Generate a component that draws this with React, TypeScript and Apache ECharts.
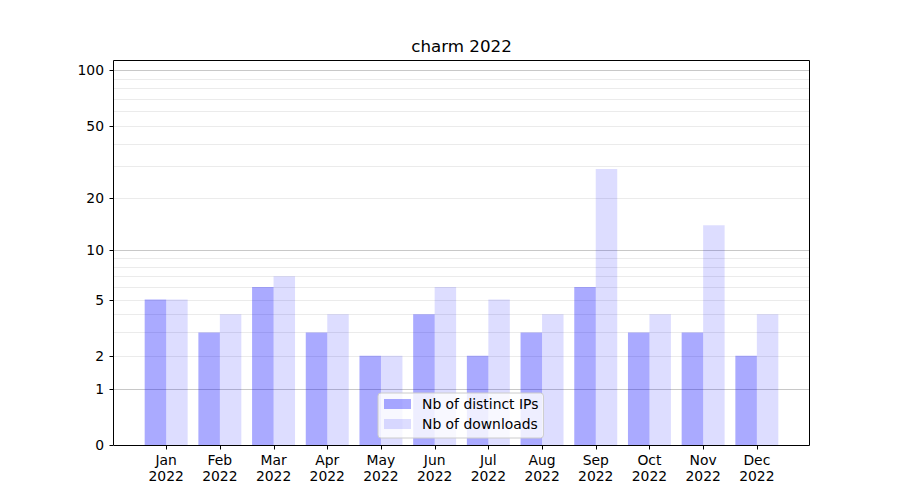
import React, { useEffect, useRef } from "react";
import * as echarts from "echarts";

const months = ["Jan", "Feb", "Mar", "Apr", "May", "Jun", "Jul", "Aug", "Sep", "Oct", "Nov", "Dec"];
const year = "2022";
const distinctIPs = [5, 3, 6, 3, 2, 4, 2, 3, 6, 3, 3, 2];
const downloads = [5, 4, 7, 4, 2, 6, 5, 4, 29, 4, 14, 4];
const yTickValues = [0, 1, 2, 5, 10, 20, 50, 100];
const majorGrid = [1, 10, 100];
const minorGrid = [2, 3, 4, 5, 6, 7, 8, 9, 20, 30, 40, 50, 60, 70, 80, 90];
const yMaxValue = 113.7;
const xMin = -0.99;
const xMax = 11.99;

const FONT = "DejaVu Sans";
const t = (v: number) => Math.log10(v + 1);

function gridSeries(values: number[], color: string, z: number) {
  return {
    type: "custom",
    silent: true,
    z,
    clip: false,
    data: values.map((v) => [xMin, t(v)]),
    renderItem: (params: any, api: any) => {
      const a = api.coord([xMin, api.value(1)]);
      const b = api.coord([xMax, api.value(1)]);
      const y = Math.round(a[1]) + 0.5;
      return {
        type: "line",
        shape: { x1: a[0], y1: y, x2: b[0], y2: y },
        style: { stroke: color, lineWidth: 1 },
      };
    },
  };
}

export default function App() {
  const ref = useRef<HTMLDivElement>(null);
  useEffect(() => {
    document.body.style.margin = "0";
    const chart = echarts.init(ref.current!, null, { renderer: "svg" });
    const option: any = {
      animation: false,
      backgroundColor: "#ffffff",
      textStyle: { fontFamily: FONT },
      title: {
        text: "charm 2022",
        left: 461.5,
        textAlign: "center",
        top: 37,
        padding: 0,
        textStyle: { fontFamily: FONT, fontSize: 16.7, fontWeight: "normal", color: "#000" },
      },
      grid: {
        left: 113,
        right: 90,
        top: 60,
        bottom: 55,
        show: false,
      },
      graphic: [
        {
          type: "rect",
          silent: true,
          z: 5,
          shape: { x: 113.5, y: 60.5, width: 696, height: 385 },
          style: { fill: "none", stroke: "#000", lineWidth: 1 },
        },
      ],
      legend: {
        data: ["Nb of distinct IPs", "Nb of downloads"],
        orient: "vertical",
        left: 378,
        top: 393,
        backgroundColor: "rgba(255,255,255,0.8)",
        borderColor: "#cccccc",
        borderWidth: 1,
        borderRadius: 3,
        padding: [4, 5, 7, 6],
        itemWidth: 27,
        itemHeight: 10,
        itemGap: 6,
        icon: "rect",
        textStyle: { fontFamily: FONT, fontSize: 13.9, color: "#000", lineHeight: 14, padding: [0, 0, 0, 6] },
      },
      xAxis: {
        type: "value",
        min: xMin,
        max: xMax,
        axisLine: { show: false },
        axisTick: { show: false },
        axisLabel: { show: false },
        splitLine: { show: false },
      },
      yAxis: {
        type: "value",
        min: 0,
        max: t(yMaxValue),
        axisLine: { show: false },
        axisTick: { show: false },
        axisLabel: { show: false },
        splitLine: { show: false },
      },
      series: [
        gridSeries(minorGrid, "#ebebeb", 0),
        gridSeries(majorGrid, "#c8c8c8", 0),
        {
          name: "Nb of distinct IPs",
          type: "bar",
          z: 2,
          barWidth: 21.5,
          barGap: "-100%",
          itemStyle: { color: "rgba(0,0,255,0.333)" },
          data: distinctIPs.map((v, i) => [i - 0.2, t(v)]),
        },
        {
          name: "Nb of downloads",
          type: "bar",
          z: 2,
          barWidth: 21.5,
          barGap: "-100%",
          itemStyle: { color: "rgba(0,0,255,0.133)" },
          data: downloads.map((v, i) => [i + 0.2, t(v)]),
        },
        {
          type: "custom",
          silent: true,
          clip: false,
          z: 3,
          data: months.map((m, i) => [i, 0]),
          renderItem: (params: any, api: any) => {
            const p = api.coord([api.value(0), 0]);
            const x = Math.round(p[0]) + 0.5;
            return {
              type: "group",
              children: [
                {
                  type: "line",
                  shape: { x1: x, y1: 446, x2: x, y2: 449.5 },
                  style: { stroke: "#000", lineWidth: 1 },
                },
                {
                  type: "text",
                  x: p[0],
                  y: p[1] + 7,
                  style: {
                    text: months[params.dataIndex] + "\n" + year,
                    fill: "#000",
                    font: `13.9px '${FONT}'`,
                    align: "center",
                    verticalAlign: "top",
                    lineHeight: 16,
                  },
                },
              ],
            };
          },
        },
        {
          type: "custom",
          silent: true,
          clip: false,
          z: 3,
          data: yTickValues.map((v) => [xMin, t(v)]),
          renderItem: (params: any, api: any) => {
            const p = api.coord([xMin, api.value(1)]);
            const y = Math.round(p[1]) + 0.5;
            return {
              type: "group",
              children: [
                {
                  type: "line",
                  shape: { x1: 109.5, y1: y, x2: 113, y2: y },
                  style: { stroke: "#000", lineWidth: 1 },
                },
                {
                  type: "text",
                  x: p[0] - 9,
                  y: p[1],
                  style: {
                    text: String(yTickValues[params.dataIndex]),
                    fill: "#000",
                    font: `13.9px '${FONT}'`,
                    align: "right",
                    verticalAlign: "middle",
                  },
                },
              ],
            };
          },
        },
      ],
    };
    chart.setOption(option);
    return () => chart.dispose();
  }, []);
  return <div ref={ref} style={{ width: 900, height: 500 }} />;
}
